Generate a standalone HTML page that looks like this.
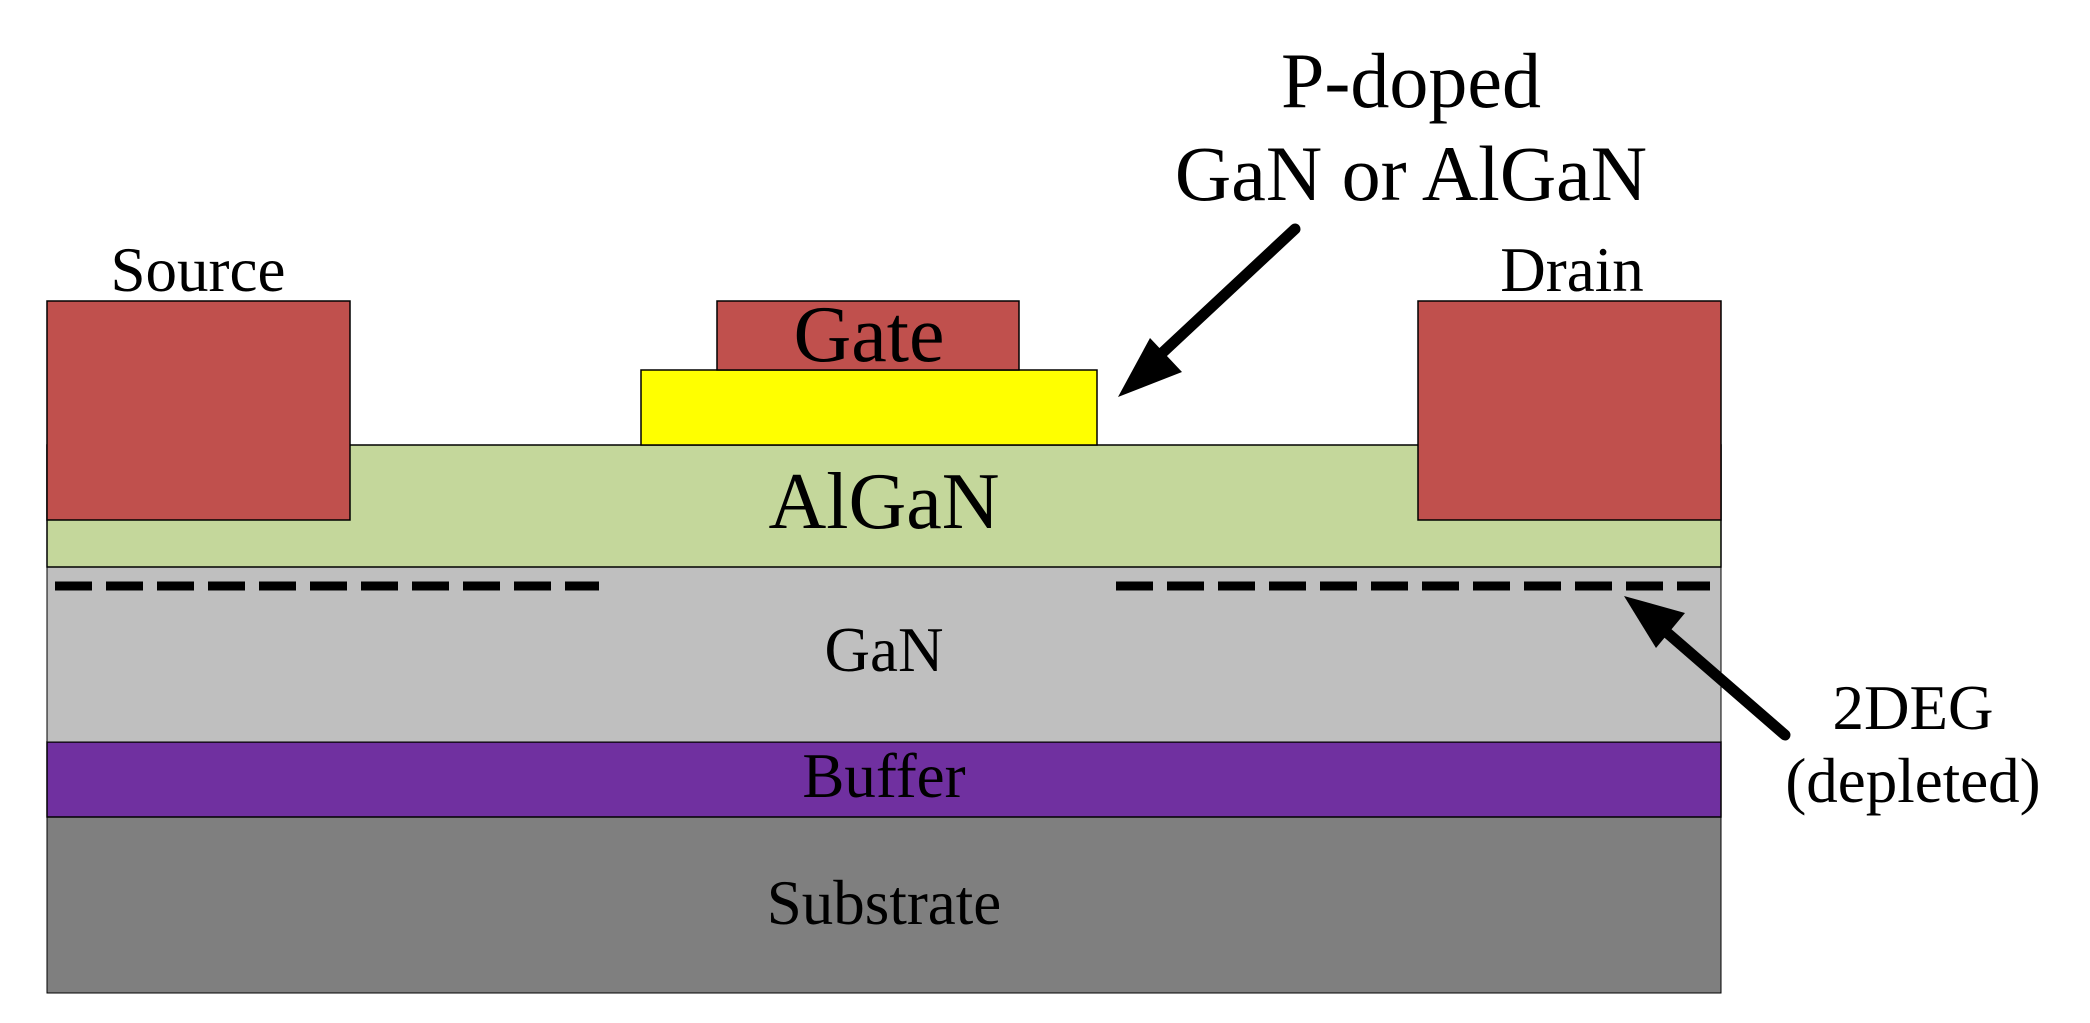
<!DOCTYPE html>
<html><head><meta charset="utf-8"><style>html,body{margin:0;padding:0;background:#fff}svg{display:block}</style></head>
<body>
<svg width="2090" height="1023" viewBox="0 0 2090 1023" xmlns="http://www.w3.org/2000/svg" font-family="'Liberation Serif', serif" text-anchor="middle">
<rect x="47" y="817" width="1674" height="176" fill="#7f7f7f" stroke="#000" stroke-width="1"/>
<rect x="47" y="742" width="1674" height="75" fill="#7030a0" stroke="#000" stroke-width="1.5"/>
<rect x="47" y="567" width="1674" height="175" fill="#bfbfbf" stroke="#000" stroke-width="1"/>
<rect x="47" y="445" width="1674" height="122" fill="#c4d79b" stroke="#000" stroke-width="1.5"/>
<rect x="47" y="301" width="303" height="219" fill="#c0504d" stroke="#000" stroke-width="1.5"/>
<rect x="1418" y="301" width="303" height="219" fill="#c0504d" stroke="#000" stroke-width="1.5"/>
<rect x="641" y="370" width="456" height="75" fill="#ffff00" stroke="#000" stroke-width="1.5"/>
<rect x="717" y="301" width="302" height="69" fill="#c0504d" stroke="#000" stroke-width="1.5"/>
<line x1="55" y1="586" x2="599" y2="586" stroke="#000" stroke-width="9" stroke-dasharray="37 14"/>
<line x1="1116" y1="586" x2="1710" y2="586" stroke="#000" stroke-width="9" stroke-dasharray="37 14"/>
<line x1="1295" y1="229" x2="1160" y2="355" stroke="#000" stroke-width="11" stroke-linecap="round"/>
<polygon points="1118,397 1150,338 1182,372" fill="#000"/>
<line x1="1785" y1="735" x2="1664" y2="630" stroke="#000" stroke-width="11" stroke-linecap="round"/>
<polygon points="1624,596 1685,613 1656,648" fill="#000"/>
<g font-size="78">
<text x="1411" y="107">P-doped</text>
<text x="1411" y="200">GaN or AlGaN</text>
</g>
<g font-size="63">
<text x="198" y="291">Source</text>
<text x="1572" y="291">Drain</text>
<text x="884" y="671">GaN</text>
<text x="884" y="797">Buffer</text>
<text x="884" y="924">Substrate</text>
<text x="1913" y="729">2DEG</text>
<text x="1913" y="802">(depleted)</text>
</g>
<g font-size="80">
<text x="869" y="361">Gate</text>
<text x="884" y="528">AlGaN</text>
</g>
</svg>
</body></html>
